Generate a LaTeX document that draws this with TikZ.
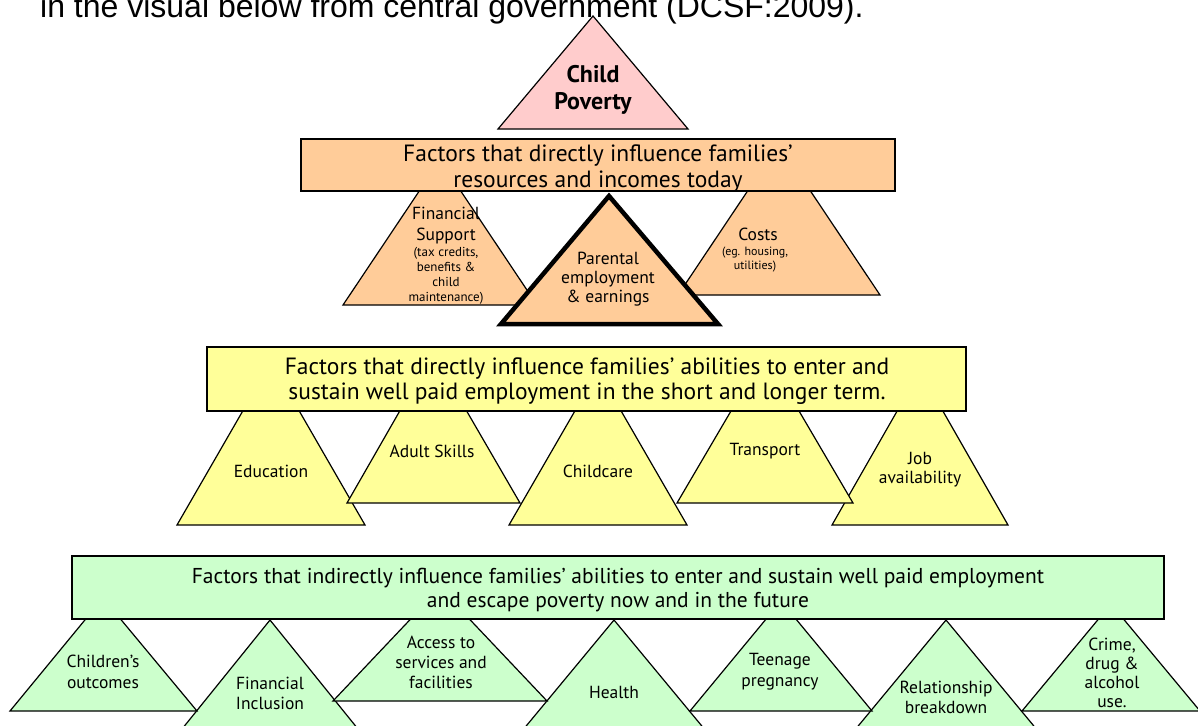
\documentclass[tikz,border=0pt]{standalone}
\usepackage{fontspec}
\setmainfont{PT Sans}
\newfontfamily\introfont{Liberation Sans}
\definecolor{povpink}{HTML}{FFCCCC}
\definecolor{resorange}{HTML}{FFCC99}
\definecolor{empyellow}{HTML}{FFFF99}
\definecolor{futgreen}{HTML}{CCFFCC}
\tikzset{
  tri/.style={draw=black, line width=1.2pt},
  panel/.style={draw=black, line width=1.3pt},
  lbl/.style={inner sep=0pt, align=center, font=\fontsize{17.5}{20}\selectfont},
  note/.style={inner sep=0pt, align=center, font=\fontsize{13}{15}\selectfont},
  head/.style={inner sep=0pt, align=center, font=\fontsize{23.5}{26}\selectfont},
}
\begin{document}
\begin{tikzpicture}[x=1pt,y=-1pt]
\useasboundingbox (0,0) rectangle (1198,725);
\clip (0,0) rectangle (1198,725);
\fill[white] (0,0) rectangle (1198,725);
% line of text above, cut at the top
\node[anchor=base west, inner sep=0pt, font=\introfont\fontsize{32}{38}\selectfont] (intro) at (40,18) {in the visual below from central government (DCSF:2009).};
% top
\filldraw[tri, fill=povpink] (593,16) -- (688,129) -- (498,129) -- cycle;
\node[inner sep=0pt, align=center, font=\bfseries\fontsize{24}{27}\selectfont] (poverty) at (593,90) {Child\\Poverty};
% resources and incomes
\filldraw[tri, fill=resorange] (440,160) -- (537,305) -- (343,305) -- cycle;
\filldraw[tri, fill=resorange] (779,144) -- (880,295) -- (678,295) -- cycle;
\filldraw[panel, fill=resorange] (301,139) rectangle (895,191);
\filldraw[tri, fill=resorange, line width=4.5pt] (609,196) -- (718,324) -- (501,324) -- cycle;
\node[head] (resources) at (598,169) {Factors that directly influence families’\\resources and incomes today};
\node[lbl, font=\fontsize{17.5}{21}\selectfont] (support) at (446,226) {Financial\\Support};
\node[note] (supportnote) at (446,276) {(tax credits,\\benefits \&\\child\\maintenance)};
\node[lbl] (costs) at (758,234) {Costs};
\node[note, font=\fontsize{12}{14}\selectfont] (costsnote) at (755,260) {(eg. housing,\\utilities)};
\node[lbl, font=\fontsize{17.5}{19}\selectfont] (parental) at (608,279) {Parental\\employment\\\& earnings};
% abilities to enter employment
\filldraw[tri, fill=empyellow] (271,362) -- (365,525) -- (177,525) -- cycle;
\filldraw[tri, fill=empyellow] (433,353) -- (520,503) -- (347,503) -- cycle;
\filldraw[tri, fill=empyellow] (598,371) -- (687,525) -- (509,525) -- cycle;
\filldraw[tri, fill=empyellow] (920,371) -- (1008,525) -- (832,525) -- cycle;
\filldraw[tri, fill=empyellow] (765,353) -- (853,503) -- (677,503) -- cycle;
\filldraw[panel, fill=empyellow] (207,347) rectangle (966,411);
\node[head, font=\fontsize{23.5}{25}\selectfont] (abilities) at (587,381) {Factors that directly influence families’ abilities to enter and\\sustain well paid employment in the short and longer term.};
\node[lbl] (education) at (271,471) {Education};
\node[lbl] (adult) at (432,451) {Adult Skills};
\node[lbl] (childcare) at (598,471) {Childcare};
\node[lbl] (transport) at (765,451) {Transport};
\node[lbl, font=\fontsize{17.5}{19}\selectfont] (job) at (920,470) {Job\\availability};
% indirect factors
\filldraw[tri, fill=futgreen] (270,620) -- (383,760) -- (157,760) -- cycle;
\filldraw[tri, fill=futgreen] (614,620) -- (730,760) -- (498,760) -- cycle;
\filldraw[tri, fill=futgreen] (946,620) -- (1062,760) -- (830,760) -- cycle;
\filldraw[tri, fill=futgreen] (103,598) -- (197,711) -- (10,711) -- cycle;
\filldraw[tri, fill=futgreen] (440,588) -- (547,701) -- (333,701) -- cycle;
\filldraw[tri, fill=futgreen] (781,601) -- (872,711) -- (690,711) -- cycle;
\filldraw[tri, fill=futgreen] (1111,604) -- (1200,711) -- (1022,711) -- cycle;
\filldraw[panel, fill=futgreen] (72,556) rectangle (1164,619);
\node[head, font=\fontsize{21.5}{24}\selectfont] (indirect) at (618,590) {Factors that indirectly influence families’ abilities to enter and sustain well paid employment\\and escape poverty now and in the future};
\node[lbl, font=\fontsize{17.5}{21}\selectfont] (children) at (103,672) {Children’s\\outcomes};
\node[lbl] (inclusion) at (270,693) {Financial\\Inclusion};
\node[lbl] (access) at (441,662) {Access to\\services and\\facilities};
\node[lbl] (health) at (614,692) {Health};
\node[lbl, font=\fontsize{17.5}{21}\selectfont] (teenage) at (780,672) {Teenage\\pregnancy};
\node[lbl] (relationship) at (946,697) {Relationship\\breakdown};
\node[lbl, font=\fontsize{17.5}{19}\selectfont] (crime) at (1112,673) {Crime,\\drug \&\\alcohol\\use.};
\end{tikzpicture}
\end{document}
